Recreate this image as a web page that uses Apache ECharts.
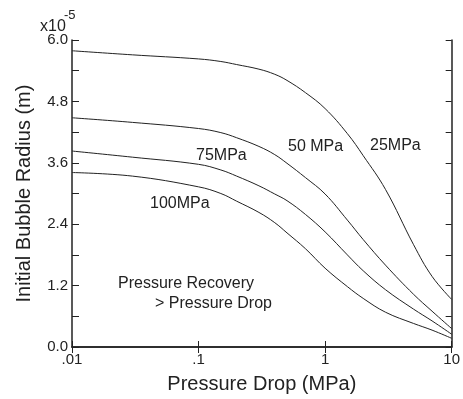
<!DOCTYPE html>
<html>
<head>
<meta charset="utf-8">
<script src="https://cdn.jsdelivr.net/npm/echarts@6/dist/echarts.min.js"></script>
<style>
  html, body { margin: 0; padding: 0; background: #fff; }
  #chart { width: 463px; height: 399px; }
</style>
</head>
<body>
<div id="chart"></div>
<script>
// pressure drop (MPa), log scale
const pressureDrop = [0.01, 0.03, 0.1, 0.15, 0.2, 0.3, 0.4, 0.5, 0.7, 1, 1.5, 2, 3, 5, 7, 10];
// initial bubble radius, units of 1e-5 m
const r25 = [5.79, 5.71, 5.63, 5.58, 5.52, 5.43, 5.33, 5.21, 4.97, 4.66, 4.17, 3.74, 3.08, 2.0, 1.38, 0.93];
const r50 = [4.48, 4.39, 4.27, 4.19, 4.09, 3.92, 3.76, 3.59, 3.31, 2.99, 2.48, 2.10, 1.60, 1.03, 0.70, 0.36];
const r75 = [3.83, 3.71, 3.57, 3.46, 3.34, 3.15, 2.99, 2.86, 2.59, 2.25, 1.80, 1.49, 1.12, 0.74, 0.51, 0.25];
const r100 = [3.41, 3.34, 3.13, 3.00, 2.85, 2.63, 2.43, 2.23, 1.92, 1.54, 1.18, 0.95, 0.68, 0.46, 0.33, 0.17];
const curveNames = ["25MPa", "50 MPa", "75MPa", "100MPa"];

const ink = "#222";
const font = "Liberation Sans, Arial, sans-serif";

const toPairs = (ys) => pressureDrop.map((x, i) => [x, ys[i]]);

const chart = echarts.init(document.getElementById("chart"));

const tickLabel = (v) => {
  const s = String(+v.toPrecision(3));
  return v < 1 ? s.replace(/^0/, "") : s;
};

const option = {
  animation: false,
  backgroundColor: "#fff",
  grid: { left: 72, right: 8, top: 40, bottom: 50 },
  xAxis: [
    {
      type: "log",
      logBase: 10,
      min: 0.01,
      max: 10,
      name: "Pressure Drop (MPa)",
      nameLocation: "middle",
      nameGap: 27,
      nameTextStyle: { fontSize: 20, color: ink, fontFamily: font },
      axisLine: { lineStyle: { color: ink, width: 1.5 } },
      axisTick: { inside: true, length: 6, lineStyle: { color: ink } },
      axisLabel: { fontSize: 15, color: ink, fontFamily: font, margin: 5, formatter: tickLabel },
      splitLine: { show: false },
    },
    {
      type: "log",
      logBase: 10,
      min: 0.01,
      max: 10,
      position: "top",
      axisLine: { lineStyle: { color: ink, width: 1.5 } },
      axisTick: { inside: true, length: 6, lineStyle: { color: ink } },
      axisLabel: { show: false },
      splitLine: { show: false },
    },
  ],
  yAxis: [
    {
      type: "value",
      min: 0,
      max: 6,
      interval: 0.6,
      name: "Initial Bubble Radius (m)",
      nameLocation: "middle",
      nameGap: 38,
      nameTextStyle: { fontSize: 20, color: ink, fontFamily: font },
      axisLine: { show: true, lineStyle: { color: ink, width: 1.5 } },
      axisTick: { show: true, inside: true, length: 7, lineStyle: { color: ink } },
      axisLabel: {
        fontSize: 15,
        color: ink,
        fontFamily: font,
        margin: 4,
        formatter: (v) => (Math.round(v / 0.6) % 2 === 0 ? v.toFixed(1) : ""),
      },
      splitLine: { show: false },
    },
    {
      type: "value",
      min: 0,
      max: 6,
      interval: 0.6,
      position: "right",
      axisLine: { show: true, lineStyle: { color: ink, width: 1.5 } },
      axisTick: { show: true, inside: true, length: 6, lineStyle: { color: ink } },
      axisLabel: { show: false },
      splitLine: { show: false },
    },
  ],
  series: [r25, r50, r75, r100].map((ys, i) => ({
    name: curveNames[i],
    type: "line",
    data: toPairs(ys),
    smooth: 0.4,
    showSymbol: false,
    lineStyle: { color: ink, width: 1 },
  })),
  graphic: [
    { type: "text", left: 40, top: 19, style: { text: "x10", fontSize: 16, fill: ink, fontFamily: font } },
    { type: "text", left: 64, top: 9, style: { text: "-5", fontSize: 13, fill: ink, fontFamily: font } },
    { type: "text", left: 370, top: 138, style: { text: curveNames[0], fontSize: 16, fill: ink, fontFamily: font } },
    { type: "text", left: 288, top: 139, style: { text: curveNames[1], fontSize: 16, fill: ink, fontFamily: font } },
    { type: "text", left: 196, top: 148, style: { text: curveNames[2], fontSize: 16, fill: ink, fontFamily: font } },
    { type: "text", left: 150, top: 196, style: { text: curveNames[3], fontSize: 16, fill: ink, fontFamily: font } },
    { type: "text", left: 118, top: 276, style: { text: "Pressure Recovery", fontSize: 16, fill: ink, fontFamily: font } },
    { type: "text", left: 155, top: 296, style: { text: "> Pressure Drop", fontSize: 16, fill: ink, fontFamily: font } },
  ],
};

chart.setOption(option);
</script>
</body>
</html>
